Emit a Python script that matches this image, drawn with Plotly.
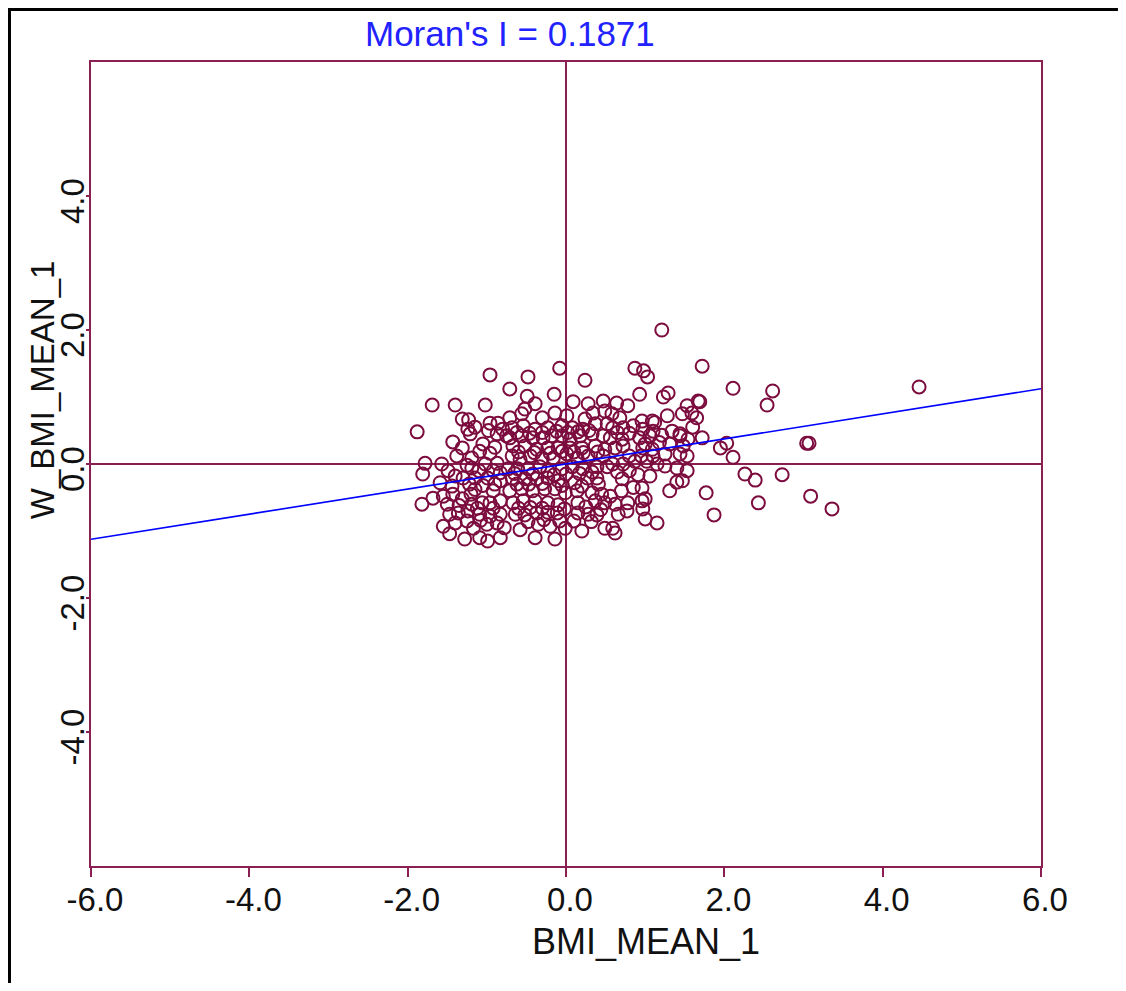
import plotly.graph_objects as go

moran_i = 0.1871
x_ticks = [-6, -4, -2, 0, 2, 4, 6]
x_tick_labels = ["-6.0", "-4.0", "-2.0", "0.0", "2.0", "4.0", "6.0"]
y_ticks = [-4, -2, 0, 2, 4]
y_tick_labels = ["-4.0", "-2.0", "0.0", "2.0", "4.0"]

# (BMI_MEAN_1, W_BMI_MEAN_1) pairs
top_points = [(1.21, 2.00), (1.72, 1.46), (-0.08, 1.43), (-0.96, 1.33), (-0.48, 1.30), (0.24, 1.25),
              (0.87, 1.43), (0.98, 1.39), (1.03, 1.30), (4.46, 1.15), (2.11, 1.13), (2.61, 1.09),
              (-0.71, 1.12), (0.93, 1.04), (1.23, 1.00), (1.29, 1.06), (2.54, 0.88), (-1.69, 0.88),
              (-1.40, 0.88), (-1.02, 0.88), (-1.88, 0.48)]
right_points = [(3.04, 0.31), (3.07, 0.31), (1.95, 0.24), (2.03, 0.31), (1.72, 0.39), (2.11, 0.10),
                (2.26, -0.15), (2.39, -0.24), (2.73, -0.16), (1.77, -0.43), (2.43, -0.58), (3.09, -0.48),
                (3.36, -0.67), (1.87, -0.76), (1.15, -0.88), (1.69, 0.93), (1.60, 0.55)]
left_points = [(-1.31, 0.67), (-1.23, 0.66), (-1.21, 0.45), (-1.24, 0.52), (-0.96, 0.61), (-0.86, 0.61),
               (-0.87, 0.45), (-0.75, 0.42), (-1.43, 0.33), (-1.31, 0.24), (-1.19, 0.09), (-1.09, 0.19),
               (-0.96, 0.16), (-1.78, 0.01), (-1.81, -0.15), (-1.57, 0.00), (-1.49, -0.10), (-1.19, -0.06),
               (-1.02, 0.00), (-0.87, 0.01), (-0.83, -0.13), (-1.59, -0.28), (-1.44, -0.33), (-1.30, -0.21),
               (-1.15, -0.21), (-0.99, -0.21), (-0.83, -0.25), (-1.82, -0.60), (-1.68, -0.51), (-1.55, -0.48),
               (-1.43, -0.45), (-1.31, -0.52), (-1.19, -0.60), (-1.06, -0.58), (-0.96, -0.58), (-0.83, -0.55),
               (-1.47, -0.75), (-1.36, -0.73), (-1.24, -0.70), (-1.09, -0.75), (-0.96, -0.78), (-0.83, -0.75),
               (-1.55, -0.93), (-1.47, -1.04), (-1.25, -0.85), (-1.17, -0.96), (-1.00, -0.90), (-0.87, -0.88),
               (-1.28, -1.12), (-1.09, -1.10), (-0.99, -1.15), (-0.83, -1.10), (-1.05, 0.30), (-1.15, -0.38),
               (-0.92, -0.40), (-1.35, -0.62), (-0.90, 0.25),
               (-1.38, 0.12), (-1.25, -0.02), (-1.10, -0.10), (-0.92, -0.10), (-1.40, -0.18), (-1.22, -0.30),
               (-1.05, -0.32), (-0.90, -0.30), (-1.50, -0.60), (-1.20, -0.45), (-1.12, -0.66), (-0.92, -0.66),
               (-1.40, -0.88), (-1.08, -0.84), (-0.78, -0.95), (-1.15, 0.55), (-0.98, 0.50), (-0.80, 0.52)]
center_points = [(-0.49, 1.01), (-0.15, 1.04), (-0.39, 0.90), (0.09, 0.93), (0.28, 0.90), (0.47, 0.94),
                 (-0.71, 0.69), (-0.56, 0.75), (-0.52, 0.82), (-0.30, 0.69), (-0.14, 0.76), (0.01, 0.72),
                 (0.24, 0.67), (0.34, 0.76), (0.49, 0.79),
                 (-0.68, 0.54), (-0.54, 0.57), (-0.39, 0.52), (-0.23, 0.54), (-0.05, 0.57), (0.08, 0.54),
                 (0.21, 0.52), (0.37, 0.60), (0.52, 0.60),
                 (-0.62, 0.47), (-0.46, 0.46), (-0.30, 0.47), (-0.12, 0.49), (0.02, 0.47), (0.15, 0.48),
                 (0.29, 0.50),
                 (-0.71, 0.39), (-0.56, 0.42), (-0.42, 0.39), (-0.29, 0.39), (-0.18, 0.42), (-0.05, 0.42),
                 (0.05, 0.37), (0.18, 0.42), (0.33, 0.45), (0.47, 0.42),
                 (-0.67, 0.27), (-0.52, 0.27), (-0.37, 0.22), (-0.23, 0.24), (-0.10, 0.24), (0.05, 0.24),
                 (0.20, 0.24), (0.37, 0.27), (0.49, 0.22),
                 (-0.60, 0.18), (-0.40, 0.17), (-0.20, 0.16), (-0.05, 0.19), (0.10, 0.18), (0.22, 0.17),
                 (0.40, 0.18),
                 (-0.68, 0.12), (-0.58, 0.07), (-0.45, 0.12), (-0.30, 0.09), (-0.16, 0.09), (0.01, 0.15),
                 (0.14, 0.09), (0.28, 0.12), (0.47, 0.12),
                 (-0.73, -0.07), (-0.61, -0.07), (-0.48, -0.07), (-0.33, -0.04), (-0.23, -0.10), (-0.05, -0.07),
                 (0.08, -0.04), (0.21, -0.07), (0.39, -0.04), (0.52, -0.04),
                 (-0.65, -0.14), (-0.42, -0.15), (-0.15, -0.16), (0.00, -0.15), (0.17, -0.14), (0.33, -0.12),
                 (-0.68, -0.21), (-0.52, -0.22), (-0.37, -0.22), (-0.23, -0.21), (-0.10, -0.25), (0.11, -0.28),
                 (0.27, -0.21), (0.39, -0.21),
                 (-0.62, -0.30), (-0.47, -0.30), (-0.30, -0.29), (-0.05, -0.32), (0.20, -0.33), (0.41, -0.30),
                 (-0.71, -0.40), (-0.56, -0.37), (-0.42, -0.40), (-0.27, -0.37), (-0.14, -0.37), (-0.01, -0.43),
                 (0.14, -0.40), (0.33, -0.43), (0.45, -0.45),
                 (-0.67, -0.58), (-0.54, -0.55), (-0.39, -0.55), (-0.23, -0.58), (-0.10, -0.61), (0.15, -0.58),
                 (0.37, -0.55), (0.49, -0.58),
                 (-0.60, -0.66), (-0.45, -0.65), (-0.30, -0.66), (-0.02, -0.67), (0.25, -0.64), (0.44, -0.68),
                 (-0.64, -0.75), (-0.52, -0.76), (-0.37, -0.73), (-0.23, -0.72), (-0.11, -0.73), (0.15, -0.73),
                 (0.28, -0.75), (0.39, -0.76),
                 (-0.48, -0.86), (-0.28, -0.83), (-0.08, -0.85), (0.10, -0.85), (0.32, -0.86),
                 (-0.58, -0.98), (-0.35, -0.90), (-0.20, -0.93), (-0.01, -0.96), (0.49, -0.96),
                 (-0.39, -1.10), (-0.14, -1.12), (0.20, -1.00)]
right_center_points = [(0.64, 0.91), (0.78, 0.87), (1.67, 0.94), (1.53, 0.87), (1.59, 0.76), (0.58, 0.75),
                       (0.68, 0.69), (0.96, 0.64), (1.09, 0.64), (1.28, 0.72), (1.47, 0.75), (1.65, 0.69),
                       (1.12, 0.62),
                       (0.59, 0.54), (0.72, 0.54), (0.85, 0.57), (0.97, 0.52), (1.10, 0.49), (1.34, 0.49),
                       (1.44, 0.45), (0.65, 0.47), (0.80, 0.46),
                       (0.56, 0.39), (0.71, 0.37), (0.93, 0.39), (1.06, 0.42), (1.21, 0.43), (1.44, 0.42),
                       (1.54, 0.37), (1.00, 0.30), (1.18, 0.32),
                       (0.62, 0.24), (0.72, 0.27), (0.97, 0.24), (1.09, 0.22), (1.31, 0.30), (1.48, 0.27),
                       (1.44, 0.15), (1.53, 0.12), (0.80, 0.12), (0.95, 0.12), (1.10, 0.12), (1.25, 0.15),
                       (0.59, 0.00), (0.72, 0.00), (0.87, 0.04), (1.02, 0.04), (1.15, 0.00), (1.25, -0.03),
                       (1.40, -0.06), (1.53, -0.10), (0.65, -0.12), (0.80, -0.10),
                       (0.71, -0.22), (0.91, -0.16), (1.06, -0.18), (1.40, -0.27), (1.47, -0.25),
                       (1.31, -0.40), (0.96, -0.36), (0.96, -0.55), (1.00, -0.52), (0.56, -0.48),
                       (0.85, -0.35), (0.70, -0.40), (0.62, -0.60), (0.78, -0.58),
                       (0.66, -0.75), (0.77, -0.70), (0.97, -0.67), (1.00, -0.82), (0.59, -0.96), (0.62, -1.03)]

points = top_points + right_points + left_points + center_points + right_center_points
bmi = [p[0] for p in points]
w_bmi = [p[1] for p in points]

AXIS = "#8a1f52"
MARK = "#7c0c3e"
FONT = "Liberation Sans, Arial, sans-serif"
W, H = 1110, 975   # page has an 8px body margin

fig = go.Figure()
fig.add_trace(go.Scatter(
    x=bmi, y=w_bmi, mode="markers",
    marker=dict(symbol="circle-open", size=13, color=MARK, line=dict(width=2, color=MARK)),
    showlegend=False, hoverinfo="skip"))

line_x = [x_ticks[0], x_ticks[-1]]
fig.add_trace(go.Scatter(
    x=line_x, y=[moran_i * v for v in line_x], mode="lines",
    line=dict(color="#0000ff", width=1.6), showlegend=False, hoverinfo="skip"))

fig.update_layout(
    width=W, height=H,
    margin=dict(l=83, r=77, t=54, b=117),
    paper_bgcolor="white", plot_bgcolor="white",
    font=dict(family=FONT, size=33, color="#111111"),
    xaxis=dict(range=[-6, 6], tickvals=x_ticks, ticktext=x_tick_labels,
               showline=True, mirror=True, linecolor=AXIS, linewidth=2,
               ticks="outside", ticklen=9, tickwidth=2, tickcolor=AXIS,
               showgrid=False, zeroline=True, zerolinecolor=AXIS, zerolinewidth=2,
               ticklabelstandoff=-6, ticklabelshift=4,
               tickfont=dict(size=33)),
    yaxis=dict(range=[-6, 6], tickvals=y_ticks, ticktext=y_tick_labels, tickangle=-90,
               showline=True, mirror=True, linecolor=AXIS, linewidth=2,
               ticks="outside", ticklen=3, tickwidth=2, tickcolor=AXIS,
               showgrid=False, zeroline=True, zerolinecolor=AXIS, zerolinewidth=2,
               ticklabelstandoff=-11, ticklabelshift=10,
               tickfont=dict(size=33)),
    annotations=[
        dict(text="Moran's I = 0.1871", x=0.441, y=1.036, xref="paper", yref="paper",
             xanchor="center", yanchor="middle",
             showarrow=False, font=dict(size=35, color="#2222ff", family=FONT)),
        dict(text="BMI_MEAN_1", x=0.584, y=-0.0933, xref="paper", yref="paper",
             xanchor="center", yanchor="middle",
             showarrow=False, font=dict(size=36, color="#111111", family=FONT)),
        dict(text="W_BMI_MEAN_1", x=-0.0516, y=0.593, xref="paper", yref="paper", textangle=-90,
             xanchor="center", yanchor="middle",
             showarrow=False, font=dict(size=33, color="#111111", family=FONT)),
    ],
    shapes=[
        dict(type="line", xref="paper", yref="paper", x0=-0.0874, x1=1.081, y0=1.0653, y1=1.0653,
             line=dict(color="black", width=3)),
        dict(type="line", xref="paper", yref="paper", x0=-0.0858, x1=-0.0858, y0=1.067, y1=-0.1455,
             line=dict(color="black", width=3)),
    ],
)

fig.write_html("out.html")
